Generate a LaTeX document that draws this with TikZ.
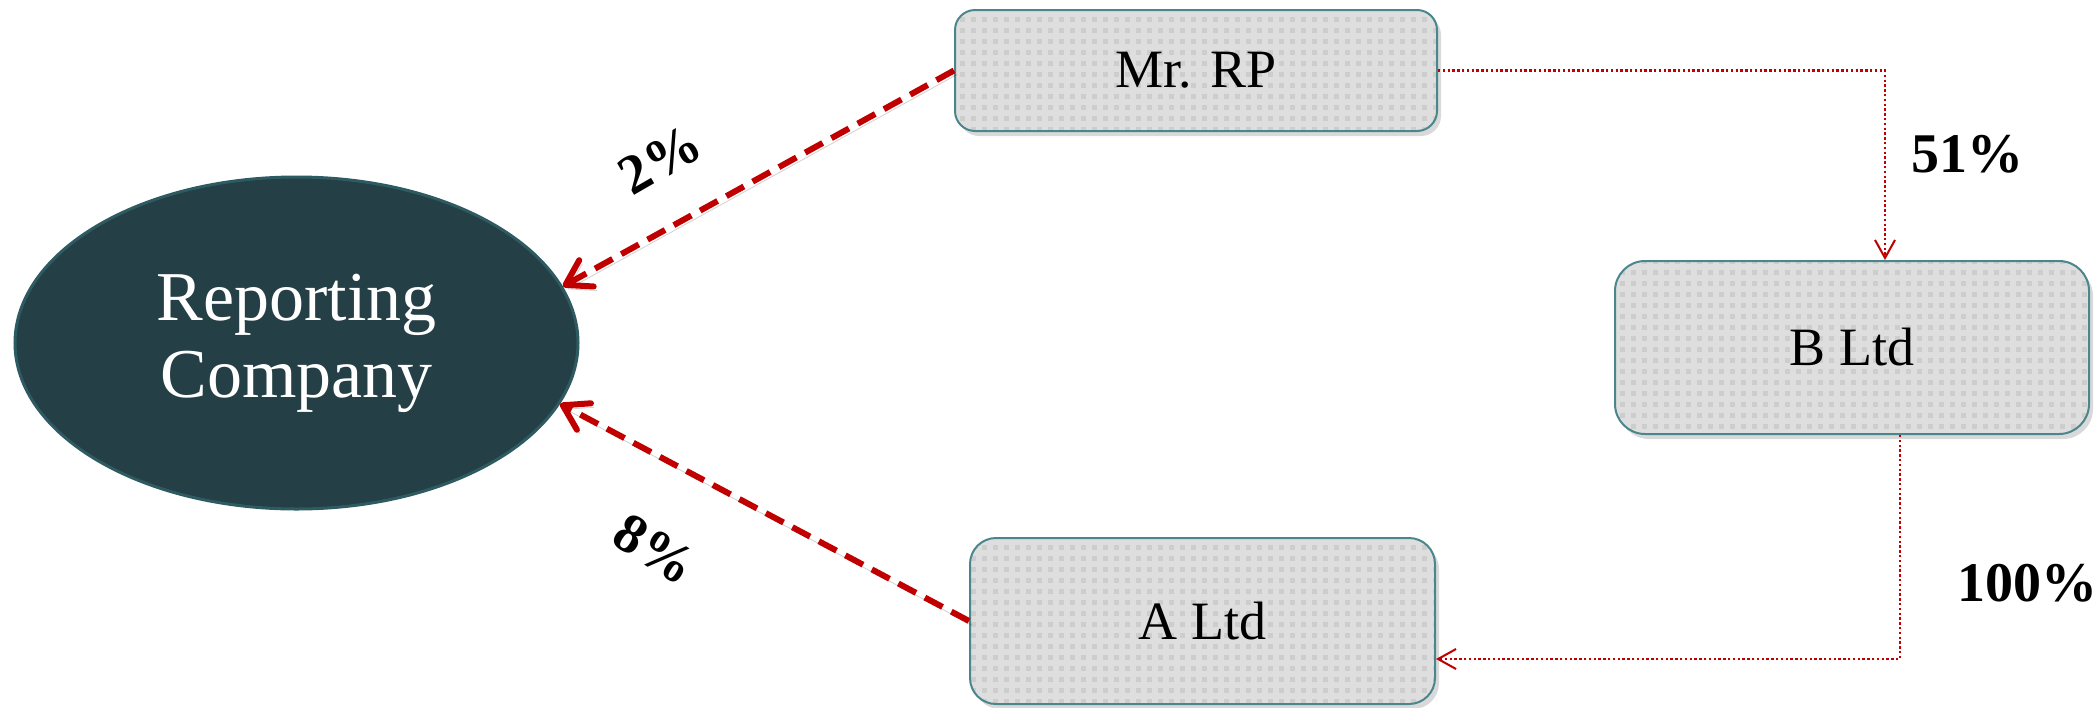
\documentclass[tikz,border=0pt]{standalone}
\usepackage{fontspec}
\setmainfont{Liberation Serif}
\usetikzlibrary{arrows.meta,shapes.geometric,shadows,patterns}

\definecolor{boxgray}{RGB}{222,222,222}
\definecolor{dotgray}{RGB}{205,205,205}
\definecolor{boxedge}{RGB}{74,135,140}
\definecolor{ellfill}{RGB}{36,63,69}
\definecolor{elledge}{RGB}{46,91,97}
\definecolor{linkred}{RGB}{192,0,0}

% small square grid used as the texture of the entity boxes
\pgfdeclarepatternformonly{boxdots}{\pgfqpoint{-1pt}{-1pt}}{\pgfqpoint{6.5pt}{6.5pt}}{\pgfqpoint{5.5pt}{5.5pt}}{%
  \pgfpathrectangle{\pgfqpoint{1.5pt}{1.5pt}}{\pgfqpoint{2.5pt}{2.5pt}}\pgfusepath{fill}}

\tikzset{
  entity/.style={draw=boxedge, line width=1pt,
    drop shadow={shadow xshift=2pt, shadow yshift=-2.5pt, opacity=0.3},
    preaction={fill=boxgray}, pattern=boxdots, pattern color=dotgray,
    inner sep=0pt, font=\fontsize{27}{31}\selectfont},
  company/.style={ellipse, draw=elledge, line width=1.5pt, fill=ellfill,
    inner sep=0pt, minimum width=281.5pt, minimum height=166pt,
    text=white, align=center, font=\fontsize{35}{38.5}\selectfont},
  dashlink/.style={draw=linkred, line width=3pt, dash pattern=on 10pt off 5pt,
    -{Straight Barb[length=12pt, width=15pt, round]},
    preaction={draw=black, opacity=0.18, transform canvas={xshift=1.5pt, yshift=-2pt}}},
  dotlink/.style={draw=linkred, line width=1.2pt, dash pattern=on 1.2pt off 1.2pt,
    -{Straight Barb[length=9pt, width=10pt, line width=1pt]}},
  pct/.style={inner sep=0pt, font=\fontsize{28}{31}\selectfont\bfseries}
}

\begin{document}
\begin{tikzpicture}[x=0.5pt, y=-0.5pt]
\useasboundingbox (0,0) rectangle (2098,707);

% entities
\node[entity, minimum width=241pt, minimum height=60.5pt, rounded corners=10pt] (mr) at (1196,70.5) {Mr. RP};
\node[entity, minimum width=237pt, minimum height=86.5pt, rounded corners=15pt] (bl) at (1852,347.5) {B Ltd};
\node[entity, minimum width=232.5pt, minimum height=83pt, rounded corners=13pt] (al) at (1202.5,621) {A Ltd};
\node[company] (rc) at (296.5,343) {Reporting\\Company};

% holdings in the reporting company
\draw[dashlink] (mr.west) -- (rc.12);
\draw[dashlink] (al.west) -- (rc.-13);

% chain of control
\coordinate (k1) at (1885,73);
\coordinate (k2) at (1900,659);
\draw[dotlink] (mr.east) -- (mr.east -| k1) -- (k1 |- bl.north);
\draw[dotlink] (k2 |- bl.south) -- (k2) -- (k2 -| al.east);

% percentages
\node[pct] (p51) at (1967,154) {51\%};
\node[pct] (p100) at (2027,583) {100\%};
\node[pct, rotate=30] (p2) at (660,160) {2\%};
\node[pct, rotate=-32] (p8) at (655,549) {8\%};
\end{tikzpicture}
\end{document}
